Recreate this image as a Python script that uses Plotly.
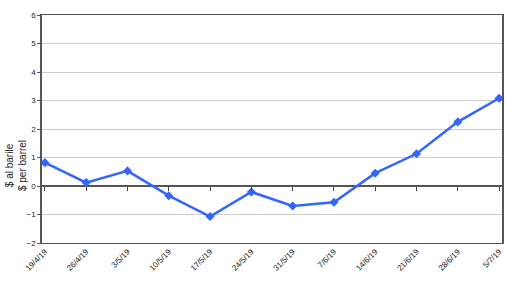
import plotly.graph_objects as go

dates = ["19/4/19", "26/4/19", "3/5/19", "10/5/19", "17/5/19", "24/5/19",
         "31/5/19", "7/6/19", "14/6/19", "21/6/19", "28/6/19", "5/7/19"]
values = [0.82, 0.12, 0.53, -0.34, -1.07, -0.21, -0.70, -0.57, 0.45, 1.13, 2.25, 3.08]
y_ticks = [-2, -1, 0, 1, 2, 3, 4, 5, 6]
y_title = "$ al barile<br>$ per barrel"

idx = list(range(len(dates)))
xr = [-0.07, len(dates) - 1 + 0.07]

fig = go.Figure()
fig.add_trace(go.Scatter(
    x=idx, y=values, mode="lines+markers",
    line=dict(color="#3366FF", width=2.5),
    marker=dict(symbol="diamond", size=7, color="#3366FF"),
    showlegend=False, hoverinfo="skip"))
# invisible trace to carry the tick axis on the zero line
fig.add_trace(go.Scatter(x=idx, y=values, xaxis="x2", mode="lines",
                         opacity=0, showlegend=False, hoverinfo="skip"))

fig.update_layout(
    width=506, height=285,
    margin=dict(l=42, r=2, t=15, b=42),
    paper_bgcolor="white", plot_bgcolor="white",
    font=dict(family="Liberation Sans, Arial", color="#222222", size=8),
    xaxis=dict(range=xr, tickmode="array", tickvals=idx, ticktext=dates,
               tickangle=-45, ticks="", showgrid=False, zeroline=False,
               showline=True, linecolor="#555555", linewidth=1, mirror=True,
               tickfont=dict(size=8)),
    xaxis2=dict(range=xr, overlaying="x", anchor="free", position=0.25,
                tickmode="array", tickvals=idx, showticklabels=False,
                ticks="outside", ticklen=4, tickcolor="#444444",
                showgrid=False, zeroline=False, showline=False),
    yaxis=dict(range=[-2, 6], tickmode="array", tickvals=y_ticks,
               ticks="outside", ticklen=3, tickcolor="#555555",
               showgrid=True, gridcolor="#CCCCCC", gridwidth=1,
               zeroline=True, zerolinecolor="#555555", zerolinewidth=1.5,
               showline=True, linecolor="#555555", linewidth=1.5, mirror=True,
               tickfont=dict(size=8)),
    annotations=[dict(text=y_title, xref="paper", yref="y", x=0, y=0.7,
                      xanchor="center", yanchor="middle", xshift=-26,
                      textangle=-90, showarrow=False,
                      font=dict(size=10, color="#222222"))],
)

fig.write_html("out.html")
